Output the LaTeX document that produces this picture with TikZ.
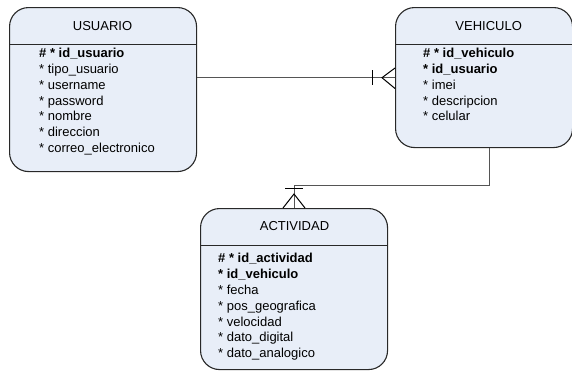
\documentclass[tikz,border=0pt]{standalone}
\usepackage{fontspec}
\setmainfont{Liberation Sans}
\definecolor{entfill}{RGB}{232,238,248}
\definecolor{entline}{RGB}{40,40,40}
\definecolor{relline}{RGB}{85,85,85}
\begin{document}
\begin{tikzpicture}[x=1pt,y=-1pt,
  entity/.style={draw=entline,line width=1.1pt,fill=entfill,rounded corners=19pt,
    anchor=north west,inner sep=0pt},
  divider/.style={draw=entline,line width=0.9pt},
  title/.style={anchor=base,inner sep=0pt,font=\fontsize{13}{15.8}\selectfont},
  attr/.style={anchor=base west,inner sep=0pt,font=\fontsize{13}{15.8}\selectfont},
  key/.style={attr,font=\fontsize{13}{15.8}\selectfont\bfseries},
  rel/.style={draw=relline,line width=1pt},
  foot/.style={draw=black,line width=1pt}]
\useasboundingbox (0,0) rectangle (572,370);

% entity boxes
\node[entity,minimum width=187pt,minimum height=164pt] (usuario) at (9,7) {};
\node[entity,minimum width=177pt,minimum height=140pt] (vehiculo) at (395,7) {};
\node[entity,minimum width=187pt,minimum height=161pt] (actividad) at (200,208) {};

% header dividers
\draw[divider] (usuario.west |- 0,44) -- (usuario.east |- 0,44);
\draw[divider] (vehiculo.west |- 0,44) -- (vehiculo.east |- 0,44);
\draw[divider] (actividad.west |- 0,245) -- (actividad.east |- 0,245);

% USUARIO
\node[title] (tu) at (102.5,30.7) {USUARIO};
\node[key]  (u1) at (39,57.6) {\# * id\_usuario};
\node[attr] (u2) at (39,73.4) {* tipo\_usuario};
\node[attr] (u3) at (39,89.3) {* username};
\node[attr] (u4) at (39,105.1) {* password};
\node[attr] (u5) at (39,120.9) {* nombre};
\node[attr] (u6) at (39,136.8) {* direccion};
\node[attr] (u7) at (39,152.6) {* correo\_electronico};

% VEHICULO
\node[title] (tv) at (488.7,30.7) {VEHICULO};
\node[key]  (v1) at (423,57.6) {\# * id\_vehiculo};
\node[key]  (v2) at (423,73.4) {* id\_usuario};
\node[attr] (v3) at (423,89.3) {* imei};
\node[attr] (v4) at (423,105.1) {* descripcion};
\node[attr] (v5) at (423,120.9) {* celular};

% ACTIVIDAD
\node[title] (ta) at (294.5,230.7) {ACTIVIDAD};
\node[key]  (a1) at (218,262.7) {\# * id\_actividad};
\node[key]  (a2) at (218,278.5) {* id\_vehiculo};
\node[attr] (a3) at (218,294.4) {* fecha};
\node[attr] (a4) at (218,310.2) {* pos\_geografica};
\node[attr] (a5) at (218,326.0) {* velocidad};
\node[attr] (a6) at (218,341.9) {* dato\_digital};
\node[attr] (a7) at (218,357.7) {* dato\_analogico};

% USUARIO 1 --- N VEHICULO
\coordinate (r1) at (0,77.7);
\draw[rel] (usuario.east |- r1) -- (vehiculo.west |- r1);
\draw[foot] (372,70) -- (372,85);
\draw[foot] (vehiculo.west |- 0,68) -- (382,77.7) -- (vehiculo.west |- 0,88.5);

% VEHICULO 1 --- N ACTIVIDAD
\coordinate (r2) at (489,185);
\coordinate (r3) at (294,185);
\draw[rel] (vehiculo.south -| r2) -- (r2) -- (r3) -- (actividad.north -| r3);
\draw[foot] (285,188.5) -- (303,188.5);
\draw[foot] (283,208) -- (294,194) -- (305,208);
\end{tikzpicture}
\end{document}
